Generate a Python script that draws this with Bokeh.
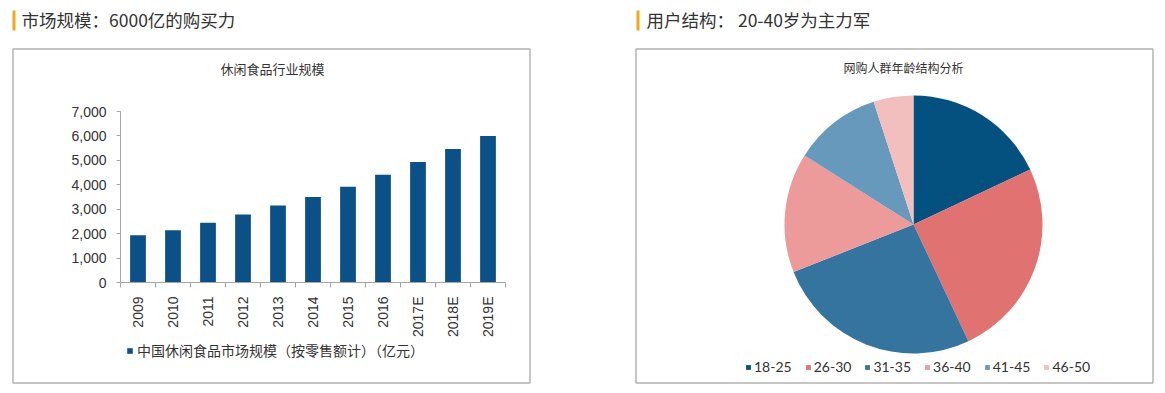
import math
from bokeh.plotting import figure
from bokeh.models import (Range1d, FixedTicker, NumeralTickFormatter, Label, BoxAnnotation,
                          Legend, LegendItem, ColumnDataSource, CustomJSTickFormatter,
                          LinearAxis)
from bokeh.embed import file_html
from bokeh.resources import INLINE

# ---------------- data ----------------
years = ["2009", "2010", "2011", "2012", "2013", "2014", "2015", "2016", "2017E", "2018E", "2019E"]
market_size = [1930, 2140, 2450, 2780, 3150, 3500, 3920, 4410, 4930, 5460, 6000]
y_ticks = [0, 1000, 2000, 3000, 4000, 5000, 6000, 7000]
bar_series_name = "中国休闲食品市场规模（按零售额计）（亿元）"

age_groups = ["18-25", "26-30", "31-35", "36-40", "41-45", "46-50"]
age_share = [18, 25, 26, 15, 11, 5]
age_colors = ["#04507f", "#e07272", "#34749f", "#ed9a9a", "#6699bb", "#f2bebe"]

left_header = "市场规模：6000亿的购买力"
right_header = "用户结构： 20-40岁为主力军"
bar_title = "休闲食品行业规模"
pie_title = "网购人群年龄结构分析"

# ---------------- layout constants (pixels) ----------------
W, H = 1165, 393
CJK = "Noto Sans CJK SC"
LAT = "Liberation Sans"
TXT = "#333333"
BOX = "#b4b4b4"
ACCENT = "#f0a91c"
AXIS = "#a6a6a6"

# bar plot area
BX0, BX1 = 120, 505          # x-axis extent
BY0, BY1 = 282, 111          # pixel of value 0 / value 7000
VMAX = 7000
# pie
PCX, PCY, PR = 913, 224, 129

p = figure(width=W, height=H, x_range=Range1d(0, W), y_range=Range1d(H, 0),
           x_axis_type=None, y_axis_type=None,
           output_backend="svg", toolbar_location=None,
           min_border=0, min_border_left=0, min_border_right=0,
           min_border_top=0, min_border_bottom=0)
p.grid.visible = False
p.outline_line_color = None
p.background_fill_color = "white"
p.border_fill_color = "white"

# ranges for the bar chart (categories -> slots, values -> value scale)
n = len(years)
slot = (BX1 - BX0) / n
p.extra_x_ranges["bx"] = Range1d(-BX0 / slot, (W - BX0) / slot)
k = (BY0 - BY1) / VMAX
p.extra_y_ranges["by"] = Range1d(-(H - BY0) / k, BY0 / k)
# ranges for the pie chart (unit = radius)
p.extra_x_ranges["px"] = Range1d(-PCX / PR, (W - PCX) / PR)
p.extra_y_ranges["py"] = Range1d(-(H - PCY) / PR, PCY / PR)


def add_text(x, y, text, size, color=TXT, font=CJK, align="left"):
    p.add_layout(Label(x=x, y=y, text=text, text_font=font, text_font_size=f"{size}px",
                       text_color=color, text_align=align, text_baseline="middle"))


def add_box(l, r, t, b, fill=None, line=None, lw=1):
    p.add_layout(BoxAnnotation(left=l, right=r, top=t, bottom=b,
                               fill_color=fill if fill else "white",
                               fill_alpha=1.0 if fill else 0.0,
                               line_color=line, line_width=lw, line_alpha=1.0 if line else 0.0,
                               level="underlay"))


# panels
add_box(12.5, 529.5, 48.5, 382.5, line=BOX, lw=1.5)
add_box(635.5, 1152.5, 48.5, 382.5, line=BOX, lw=1.5)
add_box(12, 15, 10, 30, fill=ACCENT)
add_box(636, 639, 10, 30, fill=ACCENT)
add_text(21, 19, left_header, 17.5)
add_text(646, 19, right_header, 17.5)
add_text(272, 68, bar_title, 13, align="center")
add_text(903, 67, pie_title, 12, align="center")

# ---------------- bar chart ----------------
src = ColumnDataSource(dict(x=[i + 0.5 for i in range(n)], top=market_size))
bars = p.vbar(x="x", top="top", width=0.45, source=src, fill_color="#0b5086",
              line_color=None, x_range_name="bx", y_range_name="by")

ya = LinearAxis(x_range_name="default", y_range_name="by", fixed_location=BX0,
                bounds=(0, VMAX))
ya.ticker = FixedTicker(ticks=y_ticks)
ya.formatter = NumeralTickFormatter(format="0,0")
ya.axis_line_color = AXIS
ya.major_tick_line_color = AXIS
ya.major_tick_out = 4
ya.major_tick_in = 0
ya.minor_tick_line_color = None
ya.major_label_standoff = 10
ya.major_label_text_font = LAT
ya.major_label_text_font_size = "14px"
ya.major_label_text_color = TXT
p.add_layout(ya, "left")

xa = LinearAxis(x_range_name="bx", y_range_name="by", fixed_location=0, bounds=(0, n))
xa.ticker = FixedTicker(ticks=[i + 0.5 for i in range(n)], minor_ticks=list(range(n + 1)))
xa.formatter = CustomJSTickFormatter(args=dict(labels=years),
                                     code="return labels[Math.floor(tick)] || '';")
xa.major_label_orientation = math.pi / 2
xa.major_tick_line_color = None
xa.major_tick_out = 5
xa.major_tick_in = 0
xa.minor_tick_out = 5
xa.minor_tick_in = 0
xa.minor_tick_line_color = AXIS
xa.axis_line_color = AXIS
xa.major_label_standoff = 9
xa.major_label_text_font = LAT
xa.major_label_text_font_size = "14px"
xa.major_label_text_color = TXT
p.add_layout(xa, "below")

leg1 = Legend(items=[LegendItem(label=bar_series_name, renderers=[bars])],
              location=(126, 33), glyph_width=7, glyph_height=7, label_standoff=4,
              padding=0, margin=0, border_line_color=None, background_fill_alpha=0,
              label_text_font=CJK, label_text_font_size="14px", label_text_color=TXT,
              label_height=14)
p.add_layout(leg1, "center")

# ---------------- pie chart ----------------
total = sum(age_share)
items = []
cum = 0
for g, v, c in zip(age_groups, age_share, age_colors):
    s = math.pi / 2 - 2 * math.pi * cum / total
    cum += v
    e = math.pi / 2 - 2 * math.pi * cum / total
    r = p.wedge(x=0, y=0, radius=1.0, start_angle=s, end_angle=e, direction="clock",
                fill_color=c, line_color=None, x_range_name="px", y_range_name="py")
    items.append(LegendItem(label=g, renderers=[r]))

leg2 = Legend(items=items, orientation="horizontal", location=(745, 18),
              glyph_width=6, glyph_height=6, label_standoff=3, spacing=13,
              padding=0, margin=0, border_line_color=None, background_fill_alpha=0,
              label_text_font="Lato", label_text_font_size="14px", label_text_color=TXT,
              label_height=14)
p.add_layout(leg2, "center")

open("out.html", "w").write(file_html(p, INLINE))
